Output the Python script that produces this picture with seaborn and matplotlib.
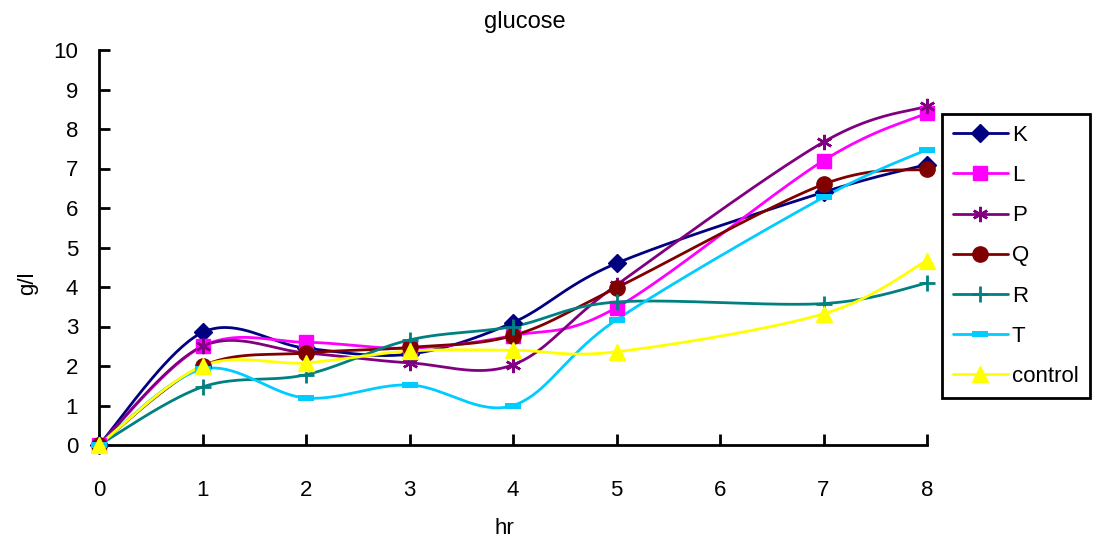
import numpy as np
import pandas as pd
import matplotlib
matplotlib.use("Agg")
import matplotlib.pyplot as plt
from matplotlib.lines import Line2D
from matplotlib.path import Path
import seaborn as sns

# sampling times (hours)
hours = [0, 1, 2, 3, 4, 5, 7, 8]

# glucose concentration (g/l) per strain
K = [0, 2.85, 2.45, 2.30, 3.10, 4.60, 6.40, 7.10]
L = [0, 2.50, 2.60, 2.45, 2.77, 3.48, 7.20, 8.40]
P = [0, 2.50, 2.33, 2.08, 2.03, 4.05, 7.67, 8.58]
Q = [0, 2.00, 2.33, 2.47, 2.77, 3.98, 6.60, 6.98]
R = [0, 1.47, 1.78, 2.66, 3.00, 3.62, 3.58, 4.10]
T = [0, 1.92, 1.19, 1.52, 1.00, 3.17, 6.27, 7.48]
control = [0, 2.00, 2.08, 2.38, 2.40, 2.36, 3.32, 4.67]

series_names = ["K", "L", "P", "Q", "R", "T", "control"]
series_values = [K, L, P, Q, R, T, control]
colors = ["#000080", "#FF00FF", "#800080", "#800000", "#008080", "#00CCFF", "#FFFF00"]

dash = Path([(-1, -0.32), (1, -0.32), (1, 0.32), (-1, 0.32), (-1, -0.32)],
            [Path.MOVETO, Path.LINETO, Path.LINETO, Path.LINETO, Path.CLOSEPOLY])
markers = ["D", "s", (6, 2, 0), "o", "+", dash, "^"]
msizes = [9, 10, 11, 11, 12, 12, 11]
medges = [1, 1, 1.8, 1, 2.0, 0, 1]


def smooth(xs, ys, n=40):
    """Cardinal (Catmull-Rom style) Bezier smoothing through every point."""
    pts = np.column_stack([xs, ys]).astype(float)
    out = [pts[0]]
    t = np.linspace(0, 1, n)[1:, None]
    for i in range(len(pts) - 1):
        p0 = pts[max(i - 1, 0)]
        p1 = pts[i]
        p2 = pts[i + 1]
        p3 = pts[min(i + 2, len(pts) - 1)]
        c1 = p1 + (p2 - p0) / 6.0
        c2 = p2 - (p3 - p1) / 6.0
        seg = ((1 - t) ** 3) * p1 + 3 * ((1 - t) ** 2) * t * c1 + 3 * (1 - t) * t ** 2 * c2 + t ** 3 * p2
        out.extend(seg)
    out = np.array(out)
    return out[:, 0], out[:, 1]


sns.set_style("white")
plt.rcParams["font.family"] = ["Liberation Sans", "DejaVu Sans"]
plt.rcParams["text.color"] = "black"
plt.rcParams["axes.labelcolor"] = "black"

FS = 16

fig = plt.figure(figsize=(10.95, 5.41), dpi=100)
ax = fig.add_axes([99 / 1095, 1 - 445 / 541, 828 / 1095, 395 / 541])

handles = []
for name, vals, col, mk, ms, me in zip(series_names, series_values, colors, markers, msizes, medges):
    sx, sy = smooth(hours, vals)
    curve = pd.DataFrame({"hr": sx, "g/l": sy})
    sns.lineplot(data=curve, x="hr", y="g/l", ax=ax, color=col, lw=2.0,
                 sort=False, estimator=None, clip_on=False)
    ax.plot(hours, vals, linestyle="none", marker=mk, markersize=ms,
            color=col, markeredgecolor=col, markeredgewidth=me, clip_on=False, zorder=3)
    handles.append(Line2D([0], [0], color=col, lw=2.0, marker=mk, markersize=ms,
                          markeredgecolor=col, markeredgewidth=me))

ax.set_xlim(0, 8)
ax.set_ylim(0, 10)
ax.set_xticks(range(0, 9))
ax.set_yticks(range(0, 11))
ax.tick_params(axis="both", direction="in", length=8, width=2, labelsize=FS,
               colors="black", bottom=True, left=True)
ax.tick_params(axis="y", pad=15)
ax.tick_params(axis="x", pad=25)
for s in ["top", "right"]:
    ax.spines[s].set_visible(False)
for s in ["left", "bottom"]:
    ax.spines[s].set_color("black")
    ax.spines[s].set_linewidth(2)

fig.text(525 / 1095, 1 - 22 / 541, "glucose", fontsize=FS + 1, ha="center", va="center")
ax.set_xlabel("hr", fontsize=FS)
ax.set_ylabel("g/l", fontsize=FS)
ax.xaxis.set_label_coords(0.49, -0.185)
ax.yaxis.set_label_coords(-0.074, 0.41)

leg = fig.legend(handles, series_names, loc="upper left",
                 bbox_to_anchor=(942 / 1095, 1 - 114 / 541),
                 fontsize=FS, frameon=True, fancybox=False, framealpha=1,
                 handlelength=2.45, labelspacing=0.86, borderpad=0.5,
                 handletextpad=0.2, borderaxespad=0)
leg.get_frame().set_edgecolor("black")
leg.get_frame().set_linewidth(2)

fig.savefig("out.png", dpi=100)
